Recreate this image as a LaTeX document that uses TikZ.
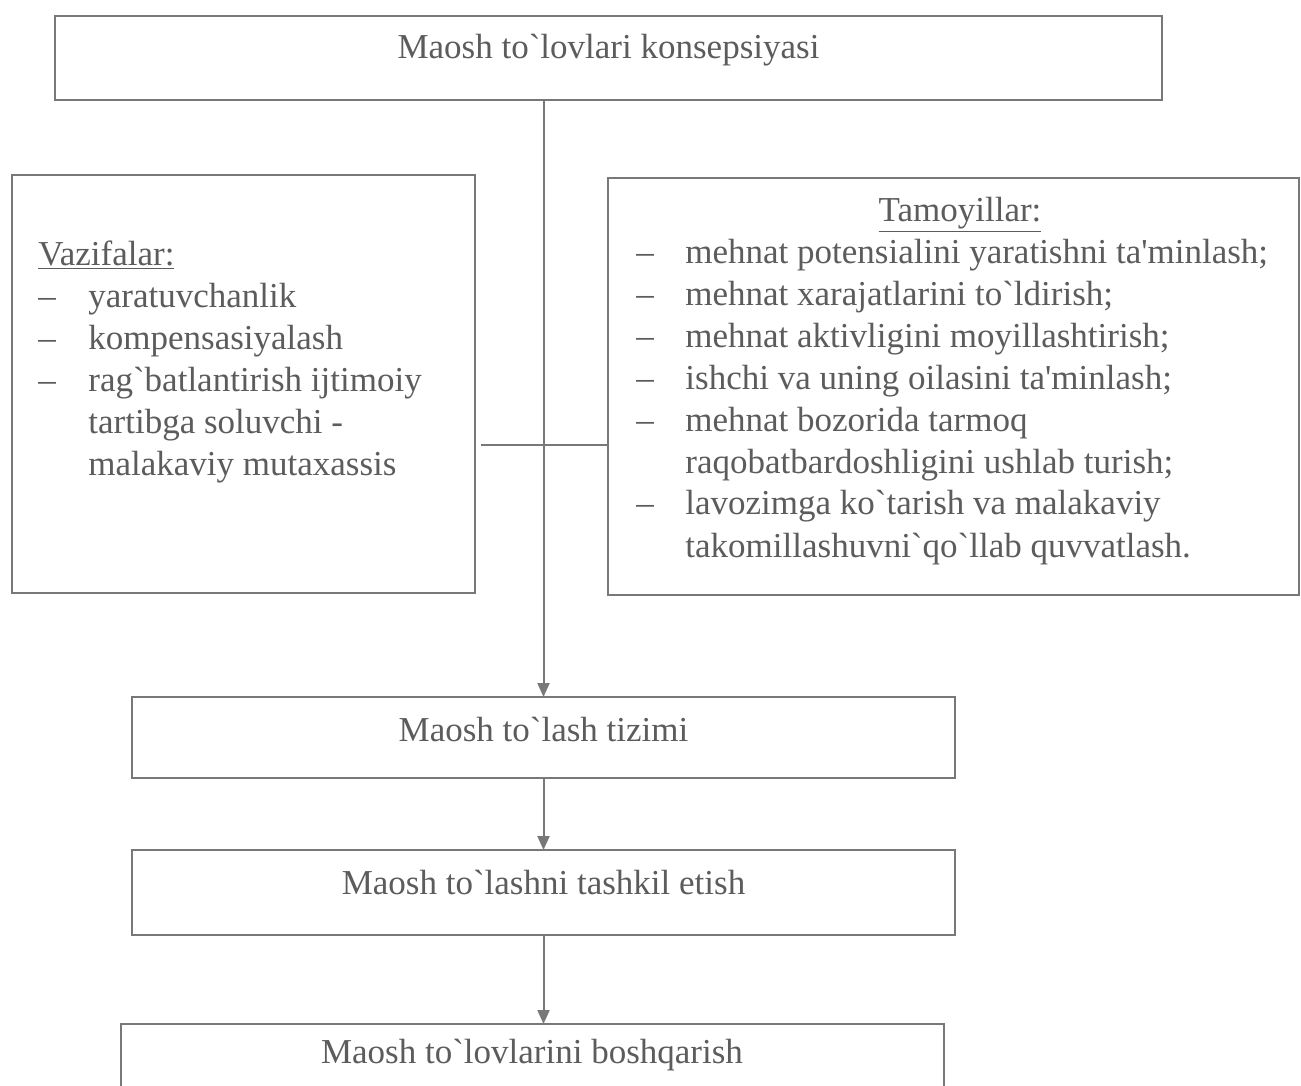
\documentclass[tikz,border=0pt]{standalone}
\usepackage{fontspec}
\setmainfont{Liberation Serif}
\usetikzlibrary{arrows.meta}
\definecolor{ink}{RGB}{92,92,92}
\definecolor{rulegray}{RGB}{120,120,120}
\newcommand\mybq{\textasciigrave}
\newcommand\mysq{\textquotesingle}
\begin{document}
\begin{tikzpicture}[x=0.5pt,y=-0.5pt,
  box/.style={draw=rulegray,line width=1pt,inner sep=0pt,outer sep=0pt},
  lbl/.style={text=ink,font=\fontsize{17.5}{21}\selectfont,inner sep=0pt},
  link/.style={draw=rulegray,line width=1pt},
  arrowlink/.style={link,-{Triangle[length=7pt,width=6pt]}}]
\clip (0,0) rectangle (1301,1086);
\fill[white] (0,0) rectangle (1301,1086);

% boxes
\node[box,minimum width=553.5pt,minimum height=42pt] (top) at (608.5,58) {};
\node[box,minimum width=231.5pt,minimum height=209pt] (left) at (243.5,384) {};
\node[box,minimum width=345.5pt,minimum height=208.5pt] (right) at (953.5,386.5) {};
\node[box,minimum width=411.5pt,minimum height=40.5pt] (sys) at (543.5,737.5) {};
\node[box,minimum width=411.5pt,minimum height=42.5pt] (org) at (543.5,892.5) {};
\node[box,minimum width=411.5pt,minimum height=40pt] (mgmt) at (532.5,1064) {};

% box captions
\node[lbl] (toptext) at ([yshift=4pt]top.center) {Maosh to\mybq lovlari konsepsiyasi};
\node[lbl] (systext) at ([yshift=4pt]sys.center) {Maosh to\mybq lash tizimi};
\node[lbl] (orgtext) at ([yshift=5pt]org.center) {Maosh to\mybq lashni tashkil etish};
\node[lbl] (mgmttext) at (532,1055) {Maosh to\mybq lovlarini boshqarish};

% functions list
\node[lbl,anchor=base west] (funcs) at (38,265) {%
  \begin{tabular}[t]{@{}p{25pt}@{}l@{}}
  \multicolumn{2}{@{}l@{}}{\underline{Vazifalar:}}\\
  --\hspace*{1pt} & yaratuvchanlik\\
  -- & kompensasiyalash\\
  -- & rag\mybq batlantirish ijtimoiy\\
     & tartibga soluvchi -\\
     & malakaviy mutaxassis
  \end{tabular}};

% principles list
\node[lbl,anchor=base] (princhead) at (960,221) {\underline{Tamoyillar:}};
\node[lbl,anchor=base west] (princ) at (636,263) {%
  \begin{tabular}[t]{@{}p{24.5pt}@{}l@{}}
  -- & mehnat potensialini yaratishni ta\mysq minlash;\\
  -- & mehnat xarajatlarini to\mybq ldirish;\\
  -- & mehnat aktivligini moyillashtirish;\\
  -- & ishchi va uning oilasini ta\mysq minlash;\\
  -- & mehnat bozorida tarmoq\\
     & raqobatbardoshligini ushlab turish;\\
  -- & lavozimga ko\mybq tarish va malakaviy\\
     & takomillashuvni\mybq qo\mybq llab quvvatlash.
  \end{tabular}};

% connectors
\coordinate (hy) at (0,445);
\draw[arrowlink] (top.south -| sys.north) -- (sys.north);
\draw[link] ([xshift=3pt]left.east |- hy) -- (right.west |- hy);
\draw[arrowlink] (sys.south) -- (org.north);
\draw[arrowlink] (org.south) -- (org.south |- mgmt.north);
\end{tikzpicture}
\end{document}
